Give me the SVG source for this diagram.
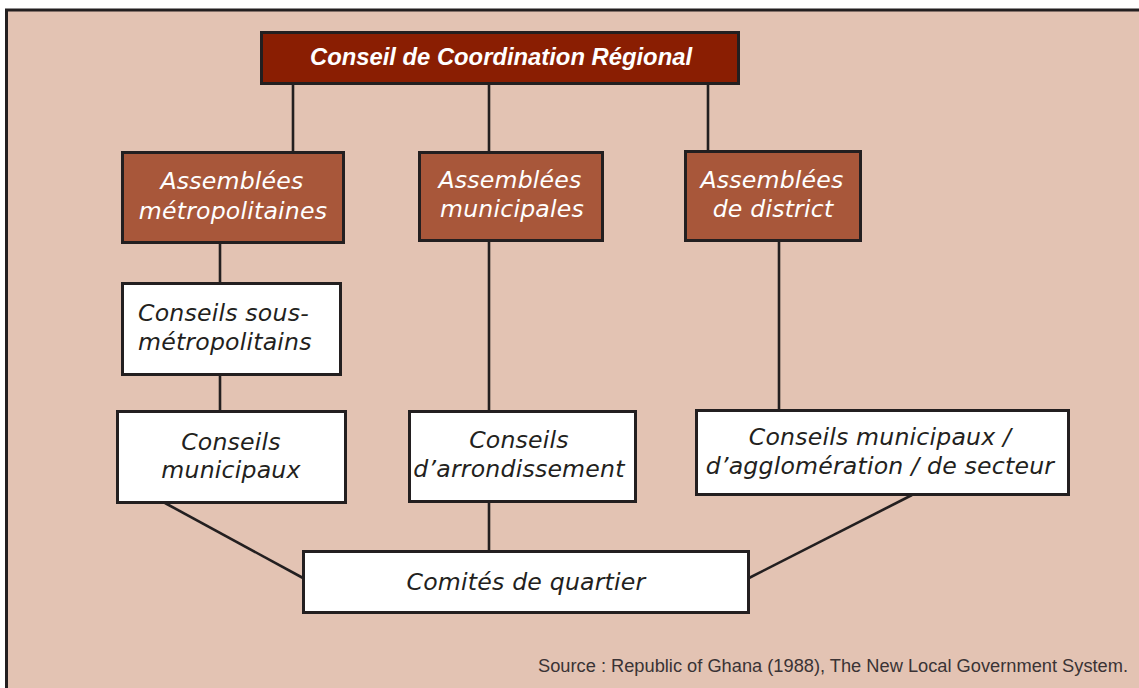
<svg xmlns="http://www.w3.org/2000/svg" width="1139" height="688" viewBox="0 0 1139 688">
<style>
.box{stroke:#231f20;stroke-width:3}
.top{fill:#8a1e02}
.asm{fill:#a8573a}
.wht{fill:#ffffff}
.ln{stroke:#231f20;stroke-width:2.6;fill:none}
.t{font-family:"DejaVu Sans",Verdana,sans-serif;font-style:italic;font-size:23.6px;letter-spacing:0.2px;text-anchor:middle}
.tw{fill:#ffffff}
.tb{fill:#231f20}
.title{font-family:"Liberation Sans",Arial,sans-serif;font-style:italic;font-weight:bold;font-size:23.8px;fill:#ffffff;text-anchor:middle}
.src{font-family:"Liberation Sans",Arial,sans-serif;font-size:17.5px;fill:#3a3335}
</style>
<rect x="0" y="0" width="1139" height="688" fill="#ffffff"/>
<rect x="6.5" y="10" width="1140" height="690" fill="#e3c3b3" stroke="#231f20" stroke-width="3"/>
<g id="connectors">
<line class="ln" x1="293" y1="84" x2="293" y2="152"/>
<line class="ln" x1="489" y1="84" x2="489" y2="152"/>
<line class="ln" x1="708" y1="84" x2="708" y2="152"/>
<line class="ln" x1="220" y1="243" x2="220" y2="283"/>
<line class="ln" x1="220" y1="375" x2="220" y2="411"/>
<line class="ln" x1="489" y1="241" x2="489" y2="411"/>
<line class="ln" x1="779" y1="241" x2="779" y2="410"/>
<line class="ln" x1="489" y1="502" x2="489" y2="551"/>
<line class="ln" x1="165" y1="503" x2="303" y2="578"/>
<line class="ln" x1="912" y1="495" x2="749" y2="578"/>
</g>
<g id="n-conseil-regional">
<rect class="box top" x="261.5" y="32.5" width="477" height="51"/>
<text class="title" x="501" y="65">Conseil de Coordination Régional</text>
</g>
<g id="n-assemblees-metro">
<rect class="box asm" x="122.5" y="152.5" width="221" height="90"/>
<text class="t tw" x="232" y="189">Assemblées</text>
<text class="t tw" x="233" y="219">métropolitaines</text>
</g>
<g id="n-assemblees-muni">
<rect class="box asm" x="419.5" y="152.5" width="183" height="88"/>
<text class="t tw" x="510" y="188">Assemblées</text>
<text class="t tw" x="512" y="217">municipales</text>
</g>
<g id="n-assemblees-district">
<rect class="box asm" x="685.5" y="151.5" width="175" height="89"/>
<text class="t tw" x="772" y="188">Assemblées</text>
<text class="t tw" x="773" y="217">de district</text>
</g>
<g id="n-conseils-sous-metro">
<rect class="box wht" x="122.5" y="283.5" width="218" height="91"/>
<text class="t tb" x="138" y="321" style="text-anchor:start">Conseils sous-</text>
<text class="t tb" x="138" y="350" style="text-anchor:start">métropolitains</text>
</g>
<g id="n-conseils-municipaux">
<rect class="box wht" x="117.5" y="411.5" width="228" height="91"/>
<text class="t tb" x="231" y="450">Conseils</text>
<text class="t tb" x="231" y="478">municipaux</text>
</g>
<g id="n-conseils-arrondissement">
<rect class="box wht" x="409.5" y="411.5" width="226" height="90"/>
<text class="t tb" x="519" y="448">Conseils</text>
<text class="t tb" x="519" y="477">d’arrondissement</text>
</g>
<g id="n-conseils-agglo">
<rect class="box wht" x="696.5" y="410.5" width="372" height="84"/>
<text class="t tb" x="880" y="445">Conseils municipaux /</text>
<text class="t tb" x="880" y="474">d’agglomération / de secteur</text>
</g>
<g id="n-comites">
<rect class="box wht" x="303.5" y="551.5" width="445" height="61"/>
<text class="t tb" x="526" y="590">Comités de quartier</text>
</g>
<text class="src" x="538" y="672" textLength="590" lengthAdjust="spacingAndGlyphs">Source : Republic of Ghana (1988), The New Local Government System.</text>
</svg>
